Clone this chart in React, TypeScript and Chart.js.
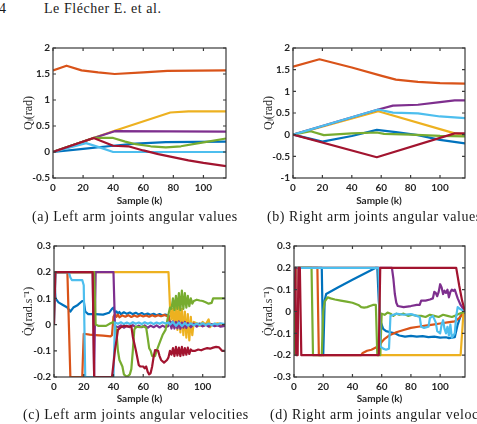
import React, { useEffect, useRef } from 'react';
import { Chart, registerables } from 'chart.js';

Chart.register(...registerables);

type Pt = [number, number];

// MATLAB default line colours, in plotting order (joint 1..7)
const lineColors = ['#0072BD', '#D95319', '#EDB120', '#7E2F8E', '#77AC30', '#4DBEEE', '#A2142F'];

const sampleTickStep = 20;
const xTitle = 'Sample (k)';
const qTitle = 'Q\u2097(rad)';
const qdTitle = 'Q\u0307\u2097(rad.s\u207B\u00B9)';

const captions = [
  '(a) Left arm joints angular values',
  '(b) Right arm joints angular values',
  '(c) Left arm joints angular velocities',
  '(d) Right arm joints angular velocities',
];

// ---------- (a) Left arm joint angles ----------
const aBlue: Pt[] = [[0, 0], [20, 0.06], [40, 0.12], [55, 0.16], [75, 0.19], [115, 0.2]];
const aOrange: Pt[] = [[0, 1.57], [9, 1.66], [19, 1.57], [30, 1.53], [41, 1.5], [60, 1.53], [76, 1.56], [115, 1.57]];
const aYellow: Pt[] = [[0, 0], [27, 0.27], [41, 0.41], [78, 0.76], [90, 0.78], [115, 0.78]];
const aPurple: Pt[] = [[0, 0], [27, 0.27], [41, 0.4], [115, 0.39]];
const aGreen: Pt[] = [[0, 0], [27, 0.27], [40, 0.27], [48, 0.2], [55, 0.15], [65, 0.11], [75, 0.09], [85, 0.11], [95, 0.16], [105, 0.21], [115, 0.26]];
const aLightBlue: Pt[] = [[0, 0], [22, 0.17], [32, 0.08], [40, 0], [115, 0]];
const aRed: Pt[] = [[0, 0], [27, 0.27], [40, 0.12], [50, 0.11], [60, 0.03], [70, -0.04], [78, -0.09], [90, -0.16], [100, -0.21], [115, -0.27]];

// ---------- (b) Right arm joint angles ----------
const bBlue: Pt[] = [[0, 0], [20, -0.16], [40, -0.03], [57, 0.11], [70, 0.06], [85, -0.01], [100, -0.12], [117, -0.2]];
const bOrange: Pt[] = [[0, 1.57], [18, 1.74], [40, 1.55], [61, 1.35], [70, 1.27], [85, 1.22], [100, 1.19], [117, 1.18]];
const bYellow: Pt[] = [[0, 0], [58, 0.54], [110, 0.03], [117, 0]];
const bPurple: Pt[] = [[0, 0], [58, 0.58], [68, 0.67], [85, 0.69], [100, 0.75], [110, 0.79], [117, 0.79]];
const bGreen: Pt[] = [[0, 0], [12, 0.08], [21, -0.01], [40, 0.03], [57, 0.05], [62, 0.02], [80, 0], [100, -0.03], [117, -0.04]];
const bLightBlue: Pt[] = [[0, 0], [58, 0.58], [68, 0.51], [85, 0.49], [100, 0.42], [117, 0.38]];
const bRed: Pt[] = [[0, 0], [57, -0.52], [110, 0.03], [117, 0.03]];

// ---------- (c) Left arm joint velocities ----------
const cBlue: Pt[] = [[0, 0.2], [1, 0.1], [3, 0.085], [6, 0.075], [9, 0.065], [11, 0.05], [13, 0.065], [16, 0.075], [19, 0.09], [20, 0.09], [21, 0.05], [23, 0.04], [28, 0.04], [33, 0.038], [37, 0.045], [39, 0.06], [40, 0.065], [41, 0.045], [42, 0.05], [43, 0.042], [44, 0.048], [45, 0.04], [47, 0.047], [49, 0.041], [51, 0.046], [53, 0.04], [55, 0.045], [57, 0.039], [59, 0.044], [61, 0.038], [63, 0.042], [65, 0.037], [67, 0.041], [69, 0.036], [71, 0.04], [73, 0.035], [75, 0.038], [77, 0.034], [78, 0.01], [80, 0.005], [82, -0.005], [84, 0.008], [86, -0.004], [88, 0.006], [90, -0.003], [92, 0.005], [95, 0.0], [98, 0.004], [101, -0.002], [104, 0.003], [107, -0.003], [110, 0.002], [113, -0.002], [115, 0]];
const cOrange: Pt[] = [[0, 0.2], [9, 0.2], [10, 0.0], [11, -0.2], [19, -0.2], [20, -0.035], [24, -0.038], [28, -0.04], [33, -0.042], [38, -0.045], [39, -0.04], [40, 0.03], [41, 0.04], [42, 0.03], [43, 0.038], [44, 0.028], [46, 0.035], [48, 0.03], [50, 0.036], [52, 0.029], [54, 0.035], [56, 0.03], [58, 0.036], [60, 0.031], [62, 0.035], [64, 0.03], [66, 0.036], [68, 0.031], [70, 0.036], [72, 0.032], [74, 0.037], [76, 0.033], [77, 0.035], [78, 0.0], [80, 0.01], [83, -0.01], [86, 0.01], [90, -0.005], [95, 0.005], [100, -0.005], [105, 0.003], [110, -0.003], [115, 0]];
const cYellow: Pt[] = [[0, 0.2], [77, 0.2], [78, 0.07], [79, 0.02], [80, 0.06], [81, -0.01], [82, 0.07], [83, -0.02], [84, 0.08], [85, -0.03], [86, 0.06], [87, -0.04], [88, 0.05], [89, -0.05], [90, 0.04], [91, -0.06], [92, 0.03], [93, -0.04], [94, 0.01], [96, 0.005], [98, -0.005], [100, 0.01], [102, 0.0], [104, 0.02], [105, -0.01], [106, 0.0], [110, 0.005], [115, 0]];
const cPurple: Pt[] = [[0, 0.2], [26, 0.2], [27, -0.2], [28, 0.2], [40, 0.2], [41, -0.005], [43, -0.01], [45, -0.003], [47, -0.012], [49, -0.004], [51, -0.01], [53, -0.002], [55, -0.011], [57, -0.004], [59, -0.01], [61, -0.003], [63, -0.012], [65, -0.004], [67, -0.01], [69, -0.003], [71, -0.011], [73, -0.004], [75, -0.01], [77, -0.005], [78, 0.01], [79, -0.015], [80, 0.012], [81, -0.015], [82, 0.01], [83, -0.014], [84, 0.012], [85, -0.016], [86, 0.008], [87, -0.012], [88, 0.01], [89, -0.013], [90, 0.006], [92, -0.01], [94, 0.004], [96, -0.008], [98, 0.002], [100, -0.007], [102, 0.0], [104, -0.008], [106, 0.002], [108, -0.006], [110, -0.002], [112, -0.008], [115, -0.005]];
const cGreen: Pt[] = [[0, 0.2], [27, 0.2], [28, 0.0], [30, -0.005], [35, -0.005], [38, 0.005], [40, 0.01], [41, 0.0], [42, -0.03], [43, -0.1], [44, -0.135], [46, -0.16], [47, -0.19], [49, -0.2], [51, -0.19], [52, -0.17], [53, -0.1], [54, -0.02], [55, -0.008], [58, -0.01], [60, -0.006], [62, -0.012], [63, -0.05], [64, -0.09], [65, -0.1], [66, -0.12], [68, -0.12], [69, -0.1], [71, -0.07], [73, -0.04], [75, -0.02], [76, 0.01], [77, 0.04], [78, 0.065], [79, 0.06], [80, 0.1], [81, 0.055], [82, 0.11], [83, 0.06], [84, 0.12], [85, 0.055], [86, 0.13], [87, 0.06], [88, 0.12], [89, 0.065], [90, 0.11], [91, 0.07], [92, 0.1], [93, 0.08], [94, 0.09], [96, 0.095], [98, 0.092], [100, 0.09], [102, 0.085], [104, 0.08], [106, 0.083], [107, 0.1], [110, 0.1], [113, 0.1], [115, 0.1]];
const cLightBlue: Pt[] = [[0, 0], [1, 0.2], [10, 0.2], [11, 0.18], [12, 0.17], [19, 0.17], [20, 0.15], [21, -0.2], [40, -0.2], [41, 0.008], [43, 0.003], [45, 0.009], [47, 0.002], [49, 0.008], [51, 0.002], [53, 0.009], [55, 0.003], [57, 0.008], [59, 0.002], [61, 0.009], [63, 0.003], [65, 0.008], [67, 0.002], [69, 0.008], [71, 0.003], [73, 0.009], [75, 0.004], [77, 0.008], [78, 0.0], [80, 0.01], [82, -0.005], [84, 0.008], [86, -0.006], [88, 0.006], [90, -0.004], [92, 0.005], [94, -0.003], [96, 0.004], [98, -0.002], [100, 0.005], [102, -0.002], [104, 0.004], [106, -0.002], [108, 0.004], [110, 0.0], [112, 0.005], [115, 0.002]];
const cRed: Pt[] = [[0, 0], [1, 0.2], [26, 0.2], [27, -0.2], [39, -0.2], [40, -0.15], [41, -0.097], [42, -0.06], [43, -0.02], [45, -0.01], [47, -0.005], [50, -0.008], [52, -0.005], [53, -0.046], [55, -0.097], [57, -0.154], [58, -0.16], [60, -0.16], [61, -0.167], [62, -0.16], [63, -0.18], [64, -0.19], [65, -0.185], [66, -0.16], [67, -0.123], [68, -0.097], [70, -0.1], [71, -0.12], [72, -0.135], [74, -0.145], [76, -0.135], [77, -0.125], [78, -0.1], [79, -0.115], [80, -0.09], [81, -0.12], [82, -0.085], [83, -0.118], [84, -0.088], [85, -0.12], [86, -0.085], [87, -0.117], [88, -0.09], [89, -0.115], [90, -0.088], [91, -0.112], [92, -0.095], [93, -0.1], [95, -0.1], [97, -0.095], [99, -0.098], [101, -0.093], [103, -0.09], [105, -0.092], [107, -0.088], [109, -0.085], [111, -0.087], [113, -0.1], [115, -0.1]];

// ---------- (d) Right arm joint velocities ----------
const dBlue: Pt[] = [[0, 0.2], [19, 0.2], [20, -0.2], [21, 0.05], [22, 0.08], [30, 0.11], [40, 0.145], [50, 0.18], [56, 0.2], [57, 0.2], [58, 0.05], [59, -0.04], [61, -0.08], [63, -0.09], [66, -0.095], [69, -0.1], [72, -0.11], [76, -0.115], [80, -0.112], [84, -0.115], [88, -0.113], [92, -0.117], [96, -0.115], [100, -0.12], [104, -0.118], [106, -0.122], [108, -0.12], [110, -0.118], [112, -0.06], [114, -0.02], [117, 0]];
const dOrange: Pt[] = [[0, 0.2], [16, 0.2], [17, -0.2], [46, -0.2], [47, -0.19], [50, -0.18], [53, -0.175], [56, -0.165], [57, -0.16], [58, -0.16], [60, -0.14], [62, -0.125], [65, -0.11], [70, -0.095], [75, -0.085], [80, -0.075], [85, -0.07], [90, -0.065], [95, -0.06], [100, -0.055], [105, -0.05], [110, -0.045], [113, -0.03], [117, 0]];
const dYellow: Pt[] = [[0, -0.2], [1, 0.2], [58, 0.2], [59, -0.2], [114, -0.2], [116, 0.0], [117, 0]];
const dPurple: Pt[] = [[0, 0.2], [67, 0.2], [68, 0.15], [69, 0.08], [70, 0.04], [71, 0.025], [75, 0.02], [80, 0.025], [84, 0.03], [86, 0.03], [87, 0.05], [90, 0.05], [93, 0.055], [95, 0.06], [96, 0.09], [97, 0.085], [98, 0.07], [99, 0.09], [100, 0.125], [101, 0.11], [102, 0.08], [103, 0.095], [104, 0.085], [105, 0.1], [106, 0.065], [107, 0.09], [108, 0.1], [109, 0.095], [110, 0.1], [112, 0.06], [114, 0.03], [117, 0]];
const dGreen: Pt[] = [[0, -0.2], [1, 0.2], [12, 0.2], [13, -0.2], [19, -0.2], [20, 0.0], [21, 0.045], [23, 0.065], [25, 0.06], [28, 0.055], [32, 0.05], [36, 0.045], [40, 0.04], [44, 0.03], [46, 0.02], [48, 0.018], [50, 0.02], [52, 0.025], [54, 0.03], [56, 0.03], [57, -0.2], [59, -0.2], [60, -0.01], [62, -0.015], [64, -0.005], [66, -0.01], [68, -0.02], [70, -0.01], [72, -0.015], [75, -0.01], [78, -0.02], [81, -0.015], [84, -0.02], [87, -0.02], [90, -0.025], [93, -0.015], [96, -0.02], [99, -0.025], [102, -0.015], [105, -0.02], [108, -0.025], [110, -0.02], [113, -0.01], [117, 0]];
const dLightBlue: Pt[] = [[0, 0], [0.5, 0.2], [58, 0.2], [59, -0.16], [61, -0.17], [63, -0.175], [65, -0.17], [66, -0.02], [70, -0.01], [75, -0.015], [80, -0.012], [84, -0.02], [86, -0.025], [87, -0.07], [89, -0.075], [92, -0.07], [93, -0.03], [95, -0.02], [97, -0.05], [98, -0.09], [100, -0.1], [101, -0.06], [102, -0.04], [103, -0.08], [104, -0.1], [105, -0.07], [106, -0.11], [107, -0.06], [108, -0.12], [110, -0.1], [111, -0.02], [112, 0.02], [114, 0.01], [117, 0]];
const dRed: Pt[] = [[0, 0], [1, 0.2], [1.5, -0.2], [2.5, -0.2], [3, 0.2], [4, 0.2], [5, -0.2], [58, -0.2], [59, 0.2], [111, 0.2], [113, 0.12], [115, 0.05], [117, 0]];

const tickFont = { family: 'Lato', size: 10, weight: 'bold' as const };
const axisColor = '#262626';

const formatTick = (v: number | string) => String(Number(Number(v).toFixed(2)));

const framePlugin = {
  id: 'matlabFrame',
  afterDatasetsDraw(chart: any) {
    const { ctx, chartArea, scales } = chart;
    const { left, right, top, bottom } = chartArea;
    const tl = 3;
    ctx.save();
    ctx.strokeStyle = '#3a3a3a';
    ctx.lineWidth = 1.2;
    ctx.beginPath();
    for (const t of scales.x.ticks) {
      const px = scales.x.getPixelForValue(t.value);
      ctx.moveTo(px, bottom);
      ctx.lineTo(px, bottom - tl);
      ctx.moveTo(px, top);
      ctx.lineTo(px, top + tl);
    }
    for (const t of scales.y.ticks) {
      const py = scales.y.getPixelForValue(t.value);
      ctx.moveTo(left, py);
      ctx.lineTo(left + tl, py);
      ctx.moveTo(right, py);
      ctx.lineTo(right - tl, py);
    }
    ctx.stroke();
    ctx.strokeRect(left, top, right - left, bottom - top);
    ctx.restore();
  },
};

type PanelProps = {
  left: number;
  top: number;
  width: number;
  height: number;
  yAxisWidth: number;
  xAxisHeight: number;
  padTop: number;
  padRight: number;
  xMax: number;
  yMin: number;
  yMax: number;
  yStep: number;
  yTitle: string;
  xTitlePad: number;
  series: Pt[][];
};

function Panel(p: PanelProps) {
  const ref = useRef<HTMLCanvasElement>(null);
  useEffect(() => {
    if (!ref.current) return;
    const chart = new Chart(ref.current, {
      type: 'line',
      data: {
        datasets: p.series.map((s, i) => ({
          data: s.map(([x, y]) => ({ x, y })),
          borderColor: lineColors[i],
          backgroundColor: lineColors[i],
          borderWidth: 2.2,
          pointRadius: 0,
          tension: 0,
          fill: false,
          order: -i,
          borderJoinStyle: 'round' as const,
        })),
      },
      options: {
        animation: false,
        responsive: false,
        maintainAspectRatio: false,
        events: [],
        layout: { padding: { top: p.padTop, right: p.padRight, bottom: 0, left: 0 } },
        plugins: { legend: { display: false }, tooltip: { enabled: false } },
        scales: {
          x: {
            type: 'linear',
            min: 0,
            max: p.xMax,
            afterFit: (s: any) => {
              s.height = p.xAxisHeight;
            },
            grid: { display: false, drawTicks: false },
            border: { display: false },
            ticks: {
              stepSize: sampleTickStep,
              includeBounds: false,
              autoSkip: false,
              maxRotation: 0,
              padding: 4,
              font: tickFont,
              color: axisColor,
              callback: formatTick,
            },
            title: {
              display: true,
              text: xTitle,
              font: tickFont,
              color: axisColor,
              padding: { top: 0, bottom: p.xTitlePad },
            },
          },
          y: {
            type: 'linear',
            min: p.yMin,
            max: p.yMax,
            afterFit: (s: any) => {
              s.width = p.yAxisWidth;
            },
            grid: { display: false, drawTicks: false },
            border: { display: false },
            ticks: {
              stepSize: p.yStep,
              autoSkip: false,
              padding: 3,
              font: tickFont,
              color: axisColor,
              callback: formatTick,
            },
            title: {
              display: true,
              text: p.yTitle,
              font: { family: 'Liberation Serif', size: 12 },
              color: axisColor,
              padding: { top: 22, bottom: 0 },
            },
          },
        },
      },
      plugins: [framePlugin],
    } as any);
    return () => chart.destroy();
  }, []);
  return (
    <canvas
      ref={ref}
      width={p.width}
      height={p.height}
      style={{ position: 'absolute', left: p.left, top: p.top, width: p.width, height: p.height, display: 'block' }}
    />
  );
}

const serifText: React.CSSProperties = {
  position: 'absolute',
  fontFamily: '"Liberation Serif", serif',
  fontSize: 14,
  letterSpacing: 0.55,
  lineHeight: 1,
  whiteSpace: 'nowrap',
  color: '#1a1a1a',
};

export default function App() {
  return (
    <div
      style={{
        position: 'absolute',
        left: 0,
        top: 0,
        width: 477,
        height: 424,
        overflow: 'hidden',
        background: '#ffffff',
      }}
    >
      <div style={{ ...serifText, left: -1, top: 2 }}>4</div>
      <div style={{ ...serifText, left: 44, top: 2 }}>Le Flécher E. et al.</div>

      <Panel
        left={0} top={30} width={240} height={180}
        yAxisWidth={53} xAxisHeight={32} padTop={18} padRight={14}
        xMax={115} yMin={-0.5} yMax={2} yStep={0.5} yTitle={qTitle} xTitlePad={3}
        series={[aBlue, aOrange, aYellow, aPurple, aGreen, aLightBlue, aRed]}
      />
      <Panel
        left={240} top={30} width={237} height={180}
        yAxisWidth={53} xAxisHeight={32} padTop={18} padRight={12}
        xMax={117} yMin={-1} yMax={2} yStep={0.5} yTitle={qTitle} xTitlePad={3}
        series={[bBlue, bOrange, bYellow, bPurple, bGreen, bLightBlue, bRed]}
      />
      <Panel
        left={0} top={228} width={240} height={180}
        yAxisWidth={54} xAxisHeight={31} padTop={18} padRight={15}
        xMax={115} yMin={-0.2} yMax={0.3} yStep={0.1} yTitle={qdTitle} xTitlePad={3}
        series={[cBlue, cOrange, cYellow, cPurple, cGreen, cLightBlue, cRed]}
      />
      <Panel
        left={240} top={228} width={237} height={180}
        yAxisWidth={54} xAxisHeight={31} padTop={18} padRight={12}
        xMax={117} yMin={-0.3} yMax={0.3} yStep={0.1} yTitle={qdTitle} xTitlePad={3}
        series={[dBlue, dOrange, dYellow, dPurple, dGreen, dLightBlue, dRed]}
      />

      <div style={{ ...serifText, left: 32, top: 210 }}>{captions[0]}</div>
      <div style={{ ...serifText, left: 267, top: 210 }}>{captions[1]}</div>
      <div style={{ ...serifText, left: 23, top: 408 }}>{captions[2]}</div>
      <div style={{ ...serifText, left: 270, top: 408 }}>{captions[3]}</div>
    </div>
  );
}
